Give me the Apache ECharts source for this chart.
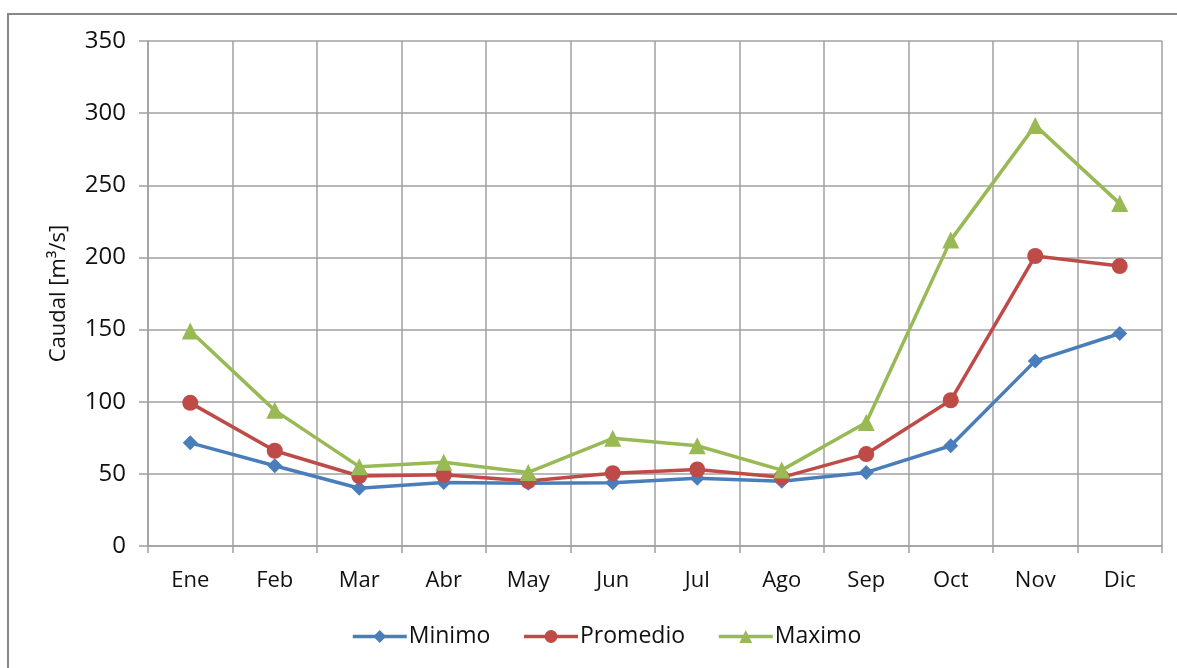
<!DOCTYPE html>
<html>
<head>
<meta charset="utf-8">
<script src="https://cdn.jsdelivr.net/npm/echarts@6/dist/echarts.min.js"></script>
<style>
  html, body { margin: 0; padding: 0; background: #fff; }
  #frame { position: absolute; left: 7px; top: 13px; width: 1200px; height: 700px;
           border: 2px solid #878787; box-sizing: border-box; }
  #chart { position: absolute; left: 0; top: 0; width: 1177px; height: 668px; }
</style>
</head>
<body>
<div id="frame"></div>
<div id="chart"></div>
<script>
// Monthly flow (m³/s): minimum, mean and maximum
const months = ['Ene', 'Feb', 'Mar', 'Abr', 'May', 'Jun', 'Jul', 'Ago', 'Sep', 'Oct', 'Nov', 'Dic'];
const minimo   = [71.5, 55.6, 40, 44, 43.5, 43.8, 47, 44.8, 51, 69.5, 128.3, 147.3];
const promedio = [99.2, 66, 48.5, 49.4, 45, 50.5, 53, 47.6, 63.7, 101, 201, 194];
const maximo   = [149, 94, 55, 58, 51, 74.6, 69.5, 52.6, 85.6, 212, 291.5, 237.3];
const yTicks = [0, 50, 100, 150, 200, 250, 300, 350];

const FONT = 'Open Sans';
const gridColor = '#a0a0a0';

const chart = echarts.init(document.getElementById('chart'), null, { renderer: 'canvas' });

function lineSeries(name, data, color, symbol, size) {
  return {
    name, type: 'line', data,
    symbol, symbolSize: size,
    lineStyle: { color, width: 3.5 },
    itemStyle: { color },
    emphasis: { disabled: true },
    z: 3
  };
}

chart.setOption({
  animation: false,
  backgroundColor: 'transparent',
  textStyle: { fontFamily: FONT, color: '#222' },
  grid: { left: 148, right: 15, top: 41, bottom: 122 },
  legend: {
    bottom: 15, left: 346,
    itemWidth: 54, itemHeight: 16, itemGap: 32,
    lineStyle: { width: 3.5 },
    textStyle: { fontFamily: FONT, fontSize: 23, color: '#111', padding: [0, 0, 0, -3] },
    data: ['Minimo', 'Promedio', 'Maximo']
  },
  xAxis: {
    type: 'category',
    data: months,
    boundaryGap: true,
    axisLine: { lineStyle: { color: gridColor, width: 1.5 } },
    axisTick: { show: true, length: 7, lineStyle: { color: gridColor, width: 1.5 } },
    axisLabel: { fontFamily: FONT, fontSize: 22, color: '#111', margin: 24 },
    splitLine: { show: true, lineStyle: { color: gridColor, width: 1.5 } }
  },
  yAxis: {
    type: 'value',
    min: yTicks[0], max: yTicks[yTicks.length - 1], interval: 50,
    name: 'Caudal [m³/s]',
    nameLocation: 'middle', nameGap: 78, nameRotate: 90,
    nameTextStyle: { fontFamily: FONT, fontSize: 22, color: '#111' },
    axisLine: { show: true, lineStyle: { color: gridColor, width: 1.5 } },
    axisTick: { show: true, length: 9, lineStyle: { color: gridColor, width: 1.5 } },
    axisLabel: { fontFamily: FONT, fontSize: 24, color: '#111', margin: 22 },
    splitLine: { show: true, lineStyle: { color: gridColor, width: 1.5 } }
  },
  series: [
    lineSeries('Minimo', minimo, '#4a7ebb', 'diamond', 15),
    lineSeries('Promedio', promedio, '#be4b48', 'circle', 16),
    lineSeries('Maximo', maximo, '#98b954', 'triangle', 17)
  ]
});
</script>
</body>
</html>
